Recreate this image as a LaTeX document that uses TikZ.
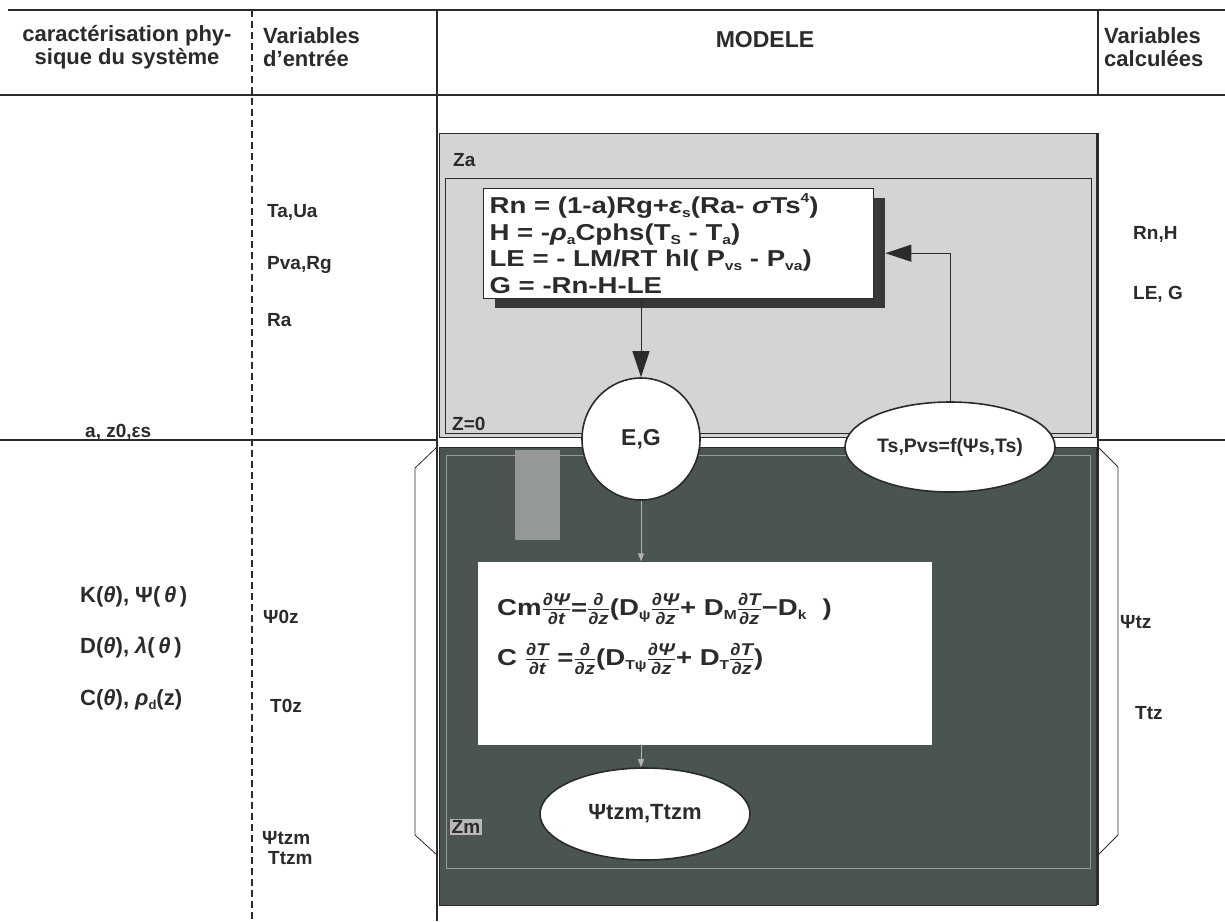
\documentclass[tikz,border=0pt]{standalone}
\usepackage{fontspec}
\setmainfont{Liberation Sans}
\newfontfamily\widefont[FakeStretch=1.2]{Liberation Sans}
\usetikzlibrary{arrows.meta,shapes.geometric}
\definecolor{ink}{HTML}{2B2B2B}
\definecolor{airgray}{HTML}{D4D4D2}
\definecolor{soilgray}{HTML}{4B5550}
\definecolor{shade}{HTML}{383838}
\newcommand{\lowsub}[1]{\raisebox{-0.35ex}{\fontsize{13}{13}\selectfont #1}}
\newcommand{\upsup}[1]{\raisebox{0.9ex}{\fontsize{13}{13}\selectfont #1}}
\newcommand{\pfrac}[2]{$\frac{\mbox{\fontsize{17}{17}\selectfont\bfseries\itshape #1}}{\mbox{\fontsize{17}{17}\selectfont\bfseries\itshape #2}}$}

\begin{document}
\begin{tikzpicture}[x=1pt,y=-1pt,
  txt/.style={font=\fontsize{19}{21}\selectfont\bfseries,text=ink,inner sep=0pt,anchor=west},
  big/.style={font=\fontsize{22}{24}\selectfont\bfseries},
  head/.style={font=\fontsize{22}{23}\selectfont\bfseries,text=ink,inner sep=0pt,align=left},
  eqn/.style={font=\widefont\fontsize{23}{26.5}\selectfont\bfseries,text=ink,align=left},
  tabline/.style={draw=ink,line width=1.5pt},
  thinline/.style={draw=ink,line width=0.8pt},
  oval/.style={ellipse,draw=ink,line width=1.6pt,fill=white,inner sep=0pt,font=\fontsize{21}{23}\selectfont\bfseries,text=ink},
  flow/.style={draw=ink,line width=0.9pt,-{Triangle[length=26pt,width=17pt]}},
  faint/.style={draw=gray!60,line width=0.7pt,-{Triangle[length=8pt,width=6pt]}}]
\useasboundingbox (0,0) rectangle (1225,921);
\fill[white] (0,0) rectangle (1225,921);

% table
\draw[tabline] (8,10) -- (1225,10);
\draw[tabline] (0,95) -- (1225,95);
\draw[tabline] (0,440) -- (437,440);
\draw[tabline] (1098,440) -- (1225,440);
\draw[tabline,dash pattern=on 7pt off 4pt] (252,10) -- (252,921);
\draw[tabline] (437,10) -- (437,921);
\draw[tabline] (1098,10) -- (1098,95);

\node[head,align=center] (hphys) at (127,47) {caractérisation phy-\\sique du système};
\node[head,anchor=west] (hin) at (263,47) {Variables\\d'entrée};
\node[head,font=\fontsize{23}{23}\selectfont\bfseries] (hmod) at (765,40) {MODELE};
\node[head,anchor=west] (hout) at (1104,47) {Variables\\calculées};

% air
\fill[airgray] (439,133) rectangle (1096,437);
\draw[thinline] (439,133) rectangle (1096,437);
\draw[thinline] (445,178) rectangle (1091,433);
\draw[tabline] (1098,133) -- (1098,905);
\node[txt] (za) at (453,160) {Za};
\node[txt] (zzero) at (452,424) {Z=0};

\node[fill=shade,minimum width=390pt,minimum height=110pt,anchor=north west,inner sep=0pt] (shadow) at (495,198) {};
\node[draw=ink,line width=1.2pt,fill=white,anchor=north west,text width=378pt,minimum height=110pt,inner xsep=6pt,inner ysep=2pt,eqn] (surf) at (483,188)
  {Rn = (1-a)Rg+{\itshape ε}\lowsub{s}(Ra- {\itshape σ}Ts\upsup{4})\\
   H = -{\itshape ρ}\lowsub{a}Cphs(T\lowsub{S} - T\lowsub{a})\\
   LE = - LM/RT hl( P\lowsub{vs} - P\lowsub{va})\\
   G = -Rn-H-LE};

% soil
\fill[soilgray] (439,447) rectangle (1096,905);
\fill[soilgray!60!white] (515,450) rectangle (560,540);
\draw[thinline] (439,447) rectangle (1096,905);
\draw[draw=gray!80,line width=0.8pt] (446,455) rectangle (1090,868);
\draw[thinline] (437,447) -- (415,468) -- (415,835) -- (437,855);
\draw[thinline] (1098,447) -- (1118,467) -- (1118,835) -- (1098,855);

\node[fill=white,minimum width=454pt,minimum height=183pt,inner sep=0pt] (soil) at (705,653) {};
\node[eqn,anchor=west,inner sep=0pt] (soiltxt) at (497,634)
  {Cm\pfrac{∂Ψ}{∂t}=\pfrac{∂}{∂z}(D\lowsub{ψ}\pfrac{∂Ψ}{∂z}+ D\lowsub{M}\pfrac{∂T}{∂z}−D\lowsub{k}\hspace{16pt})\\[18pt]
   C \pfrac{∂T}{∂t} =\pfrac{∂}{∂z}(D\lowsub{Tψ}\pfrac{∂Ψ}{∂z}+ D\lowsub{T}\pfrac{∂T}{∂z})};
\node[txt,fill=gray!55,inner sep=1.5pt] (zm) at (450,827) {Zm};

% interface nodes
\node[oval,minimum width=118pt,minimum height=122pt,font=\fontsize{23}{23}\selectfont\bfseries] (eg) at (641,439) {E,G};
\node[oval,minimum width=210pt,minimum height=90pt,font=\fontsize{19.5}{21}\selectfont\bfseries] (ts) at (950,447) {Ts,Pvs=f(Ψs,Ts)};
\node[oval,minimum width=210pt,minimum height=92pt,font=\fontsize{22}{23}\selectfont\bfseries] (tzm) at (645,814) {Ψtzm,Ttzm};

\draw[flow] (surf.south -| eg.north) -- (eg.north);
\draw[flow] (ts.north) |- (shadow.east);
\draw[faint] (eg.south) -- (eg.south |- soil.north);
\draw[faint] (soil.south -| eg.south) -- (tzm.north -| eg.south);

% left column
\node[txt] (azs) at (85,432) {a, z0,εs};
\node[txt,big] (kth) at (80,597) {K({\itshape θ}), Ψ(\,{\itshape θ}\,)};
\node[txt,big] (dth) at (80,648) {D({\itshape θ}), {\itshape λ}(\,{\itshape θ}\,)};
\node[txt,big] (cth) at (80,700) {C({\itshape θ}), {\itshape ρ}\lowsub{d}(z)};

% input column
\node[txt] (taua) at (267,212) {Ta,Ua};
\node[txt] (pvarg) at (267,265) {Pva,Rg};
\node[txt] (ra) at (267,320) {Ra};
\node[txt] (psi0) at (263,617) {Ψ0z};
\node[txt] (t0) at (270,706) {T0z};
\node[txt] (psim) at (262,838) {Ψtzm};
\node[txt] (tm) at (268,858) {Ttzm};

% output column
\node[txt] (rnh) at (1133,234) {Rn,H};
\node[txt] (leg) at (1133,294) {LE, G};
\node[txt] (psit) at (1120,622) {Ψtz};
\node[txt] (ttz) at (1135,713) {Ttz};
\end{tikzpicture}
\end{document}
